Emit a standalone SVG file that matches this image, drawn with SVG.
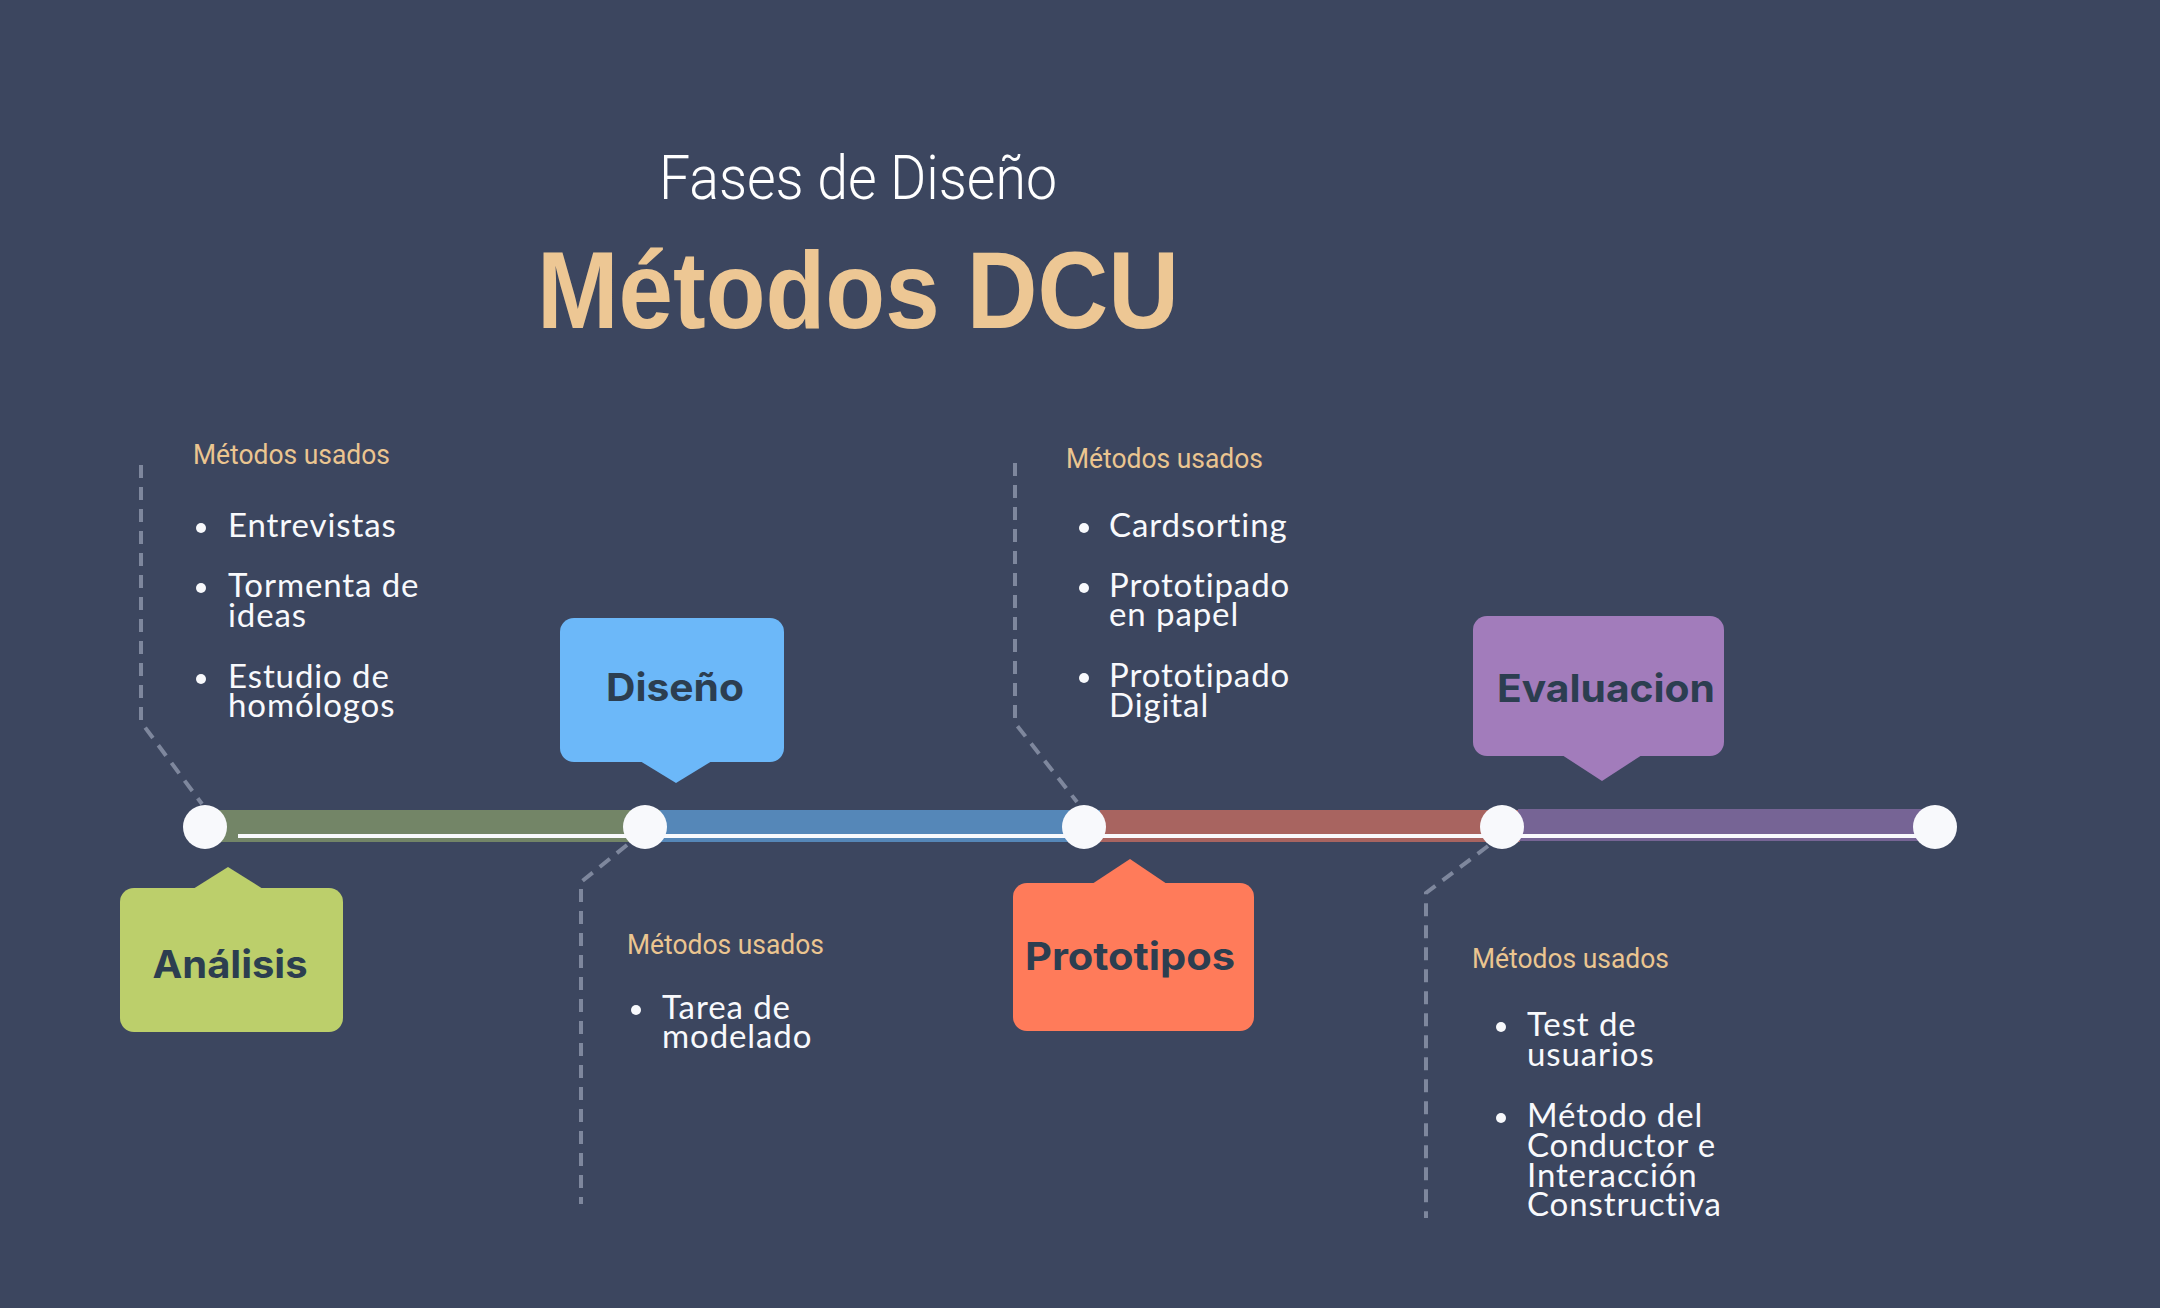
<svg xmlns="http://www.w3.org/2000/svg" width="2160" height="1308" viewBox="0 0 2160 1308">
<style>
.bg{fill:#3C465F}
.dash{fill:none;stroke:#7E879D;stroke-width:4;stroke-dasharray:13 9}
.lbl{font-family:Roboto,"Liberation Sans",sans-serif;font-size:28px;fill:#EBC590}
.item{font-family:Lato,"Liberation Sans",sans-serif;font-size:33px;letter-spacing:0.9px;fill:#F8F9FC}
.dot{fill:#F8F9FC}
.node{font-family:Inter,"Open Sans","Liberation Sans",sans-serif;font-weight:700;font-size:38px;fill:#2C3E50;text-anchor:middle}
.knob{fill:#F8F9FC}
</style>
<rect class="bg" x="0" y="0" width="2160" height="1308"/>
<g id="title">
<text x="858" y="199" text-anchor="middle" font-family="Roboto,'Liberation Sans',sans-serif" font-weight="300" font-size="62" fill="#FFFFFF" textLength="398" lengthAdjust="spacingAndGlyphs">Fases de Diseño</text>
<text x="858" y="328" text-anchor="middle" font-family="'Liberation Sans',Arial,sans-serif" font-weight="700" font-size="109" fill="#EDC794" textLength="642" lengthAdjust="spacingAndGlyphs">Métodos DCU</text>
</g>
<g id="connectors">
<path class="dash" d="M141 465 V722 L202 804"/>
<path class="dash" d="M627 845 L581 882 V1204"/>
<path class="dash" d="M1015 463 V723 L1077 802"/>
<path class="dash" d="M1488 846 L1426 893 V1218"/>
</g>
<g id="timeline">
<rect x="205" y="810" width="458" height="32" fill="#738567"/>
<rect x="660" y="810" width="440" height="32" fill="#5587B8"/>
<rect x="1100" y="810" width="420" height="32" fill="#A86460"/>
<rect x="1518" y="809" width="417" height="32" fill="#766495"/>
<rect x="238" y="834" width="1697" height="4" fill="#F8F9FC"/>
<circle class="knob" cx="205" cy="827" r="22"/>
<circle class="knob" cx="645" cy="827" r="22"/>
<circle class="knob" cx="1084" cy="827" r="22"/>
<circle class="knob" cx="1502" cy="827" r="22"/>
<circle class="knob" cx="1935" cy="827" r="22"/>
</g>
<g id="analisis">
<rect x="120" y="888" width="223" height="144" rx="14" fill="#BCCF6B"/>
<polygon points="193,889 228,867 263,889" fill="#BCCF6B"/>
<text class="node" x="230" y="978" textLength="155" lengthAdjust="spacingAndGlyphs">Análisis</text>
</g>
<g id="diseno">
<rect x="560" y="618" width="224" height="144" rx="14" fill="#6CB8F9"/>
<polygon points="640,761 676,783 712,761" fill="#6CB8F9"/>
<text class="node" x="675" y="701" textLength="138" lengthAdjust="spacingAndGlyphs">Diseño</text>
</g>
<g id="prototipos">
<rect x="1013" y="883" width="241" height="148" rx="14" fill="#FF7B5A"/>
<polygon points="1092,884 1130,859 1167,884" fill="#FF7B5A"/>
<text class="node" x="1130" y="970" textLength="210" lengthAdjust="spacingAndGlyphs">Prototipos</text>
</g>
<g id="evaluacion">
<rect x="1473" y="616" width="251" height="140" rx="14" fill="#A27CBB"/>
<polygon points="1562,755 1602,781 1642,755" fill="#A27CBB"/>
<text class="node" x="1606" y="702" textLength="218" lengthAdjust="spacingAndGlyphs">Evaluacion</text>
</g>
<g id="metodos-analisis">
<text class="lbl" x="193" y="464" textLength="197" lengthAdjust="spacingAndGlyphs">Métodos usados</text>
<circle class="dot" cx="201" cy="528" r="5"/>
<circle class="dot" cx="201" cy="588" r="5"/>
<circle class="dot" cx="201" cy="679" r="5"/>
<text class="item" x="228" y="537">Entrevistas</text>
<text class="item" x="228" y="597">Tormenta de</text>
<text class="item" x="228" y="627">ideas</text>
<text class="item" x="228" y="688">Estudio de</text>
<text class="item" x="228" y="717">homólogos</text>
</g>
<g id="metodos-prototipos">
<text class="lbl" x="1066" y="468" textLength="197" lengthAdjust="spacingAndGlyphs">Métodos usados</text>
<circle class="dot" cx="1084" cy="528" r="5"/>
<circle class="dot" cx="1084" cy="588" r="5"/>
<circle class="dot" cx="1084" cy="678" r="5"/>
<text class="item" x="1109" y="537">Cardsorting</text>
<text class="item" x="1109" y="597">Prototipado</text>
<text class="item" x="1109" y="626">en papel</text>
<text class="item" x="1109" y="687">Prototipado</text>
<text class="item" x="1109" y="717">Digital</text>
</g>
<g id="metodos-diseno">
<text class="lbl" x="627" y="954" textLength="197" lengthAdjust="spacingAndGlyphs">Métodos usados</text>
<circle class="dot" cx="636" cy="1010" r="5"/>
<text class="item" x="662" y="1019">Tarea de</text>
<text class="item" x="662" y="1048">modelado</text>
</g>
<g id="metodos-evaluacion">
<text class="lbl" x="1472" y="968" textLength="197" lengthAdjust="spacingAndGlyphs">Métodos usados</text>
<circle class="dot" cx="1501" cy="1027" r="5"/>
<circle class="dot" cx="1501" cy="1118" r="5"/>
<text class="item" x="1527" y="1036">Test de</text>
<text class="item" x="1527" y="1066">usuarios</text>
<text class="item" x="1527" y="1127">Método del</text>
<text class="item" x="1527" y="1157">Conductor e</text>
<text class="item" x="1527" y="1187">Interacción</text>
<text class="item" x="1527" y="1216">Constructiva</text>
</g>
</svg>
